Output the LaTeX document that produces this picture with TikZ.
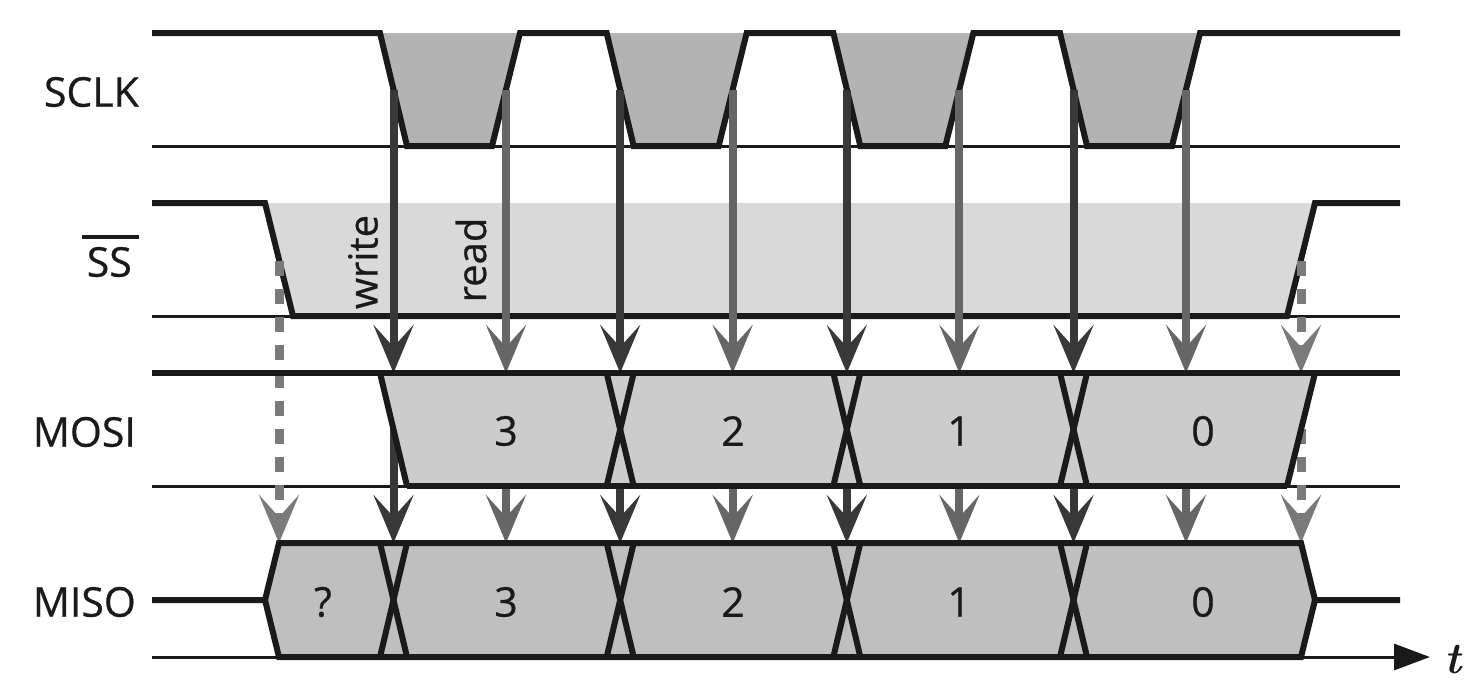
\documentclass[tikz,border=0pt]{standalone}
\usepackage{fontspec}
\setmainfont{Open Sans}[FakeBold=0.6]
\newfontfamily\tfont{Latin Modern Roman}
\usetikzlibrary{arrows.meta}
\definecolor{linecol}{HTML}{1A1A1A}
\definecolor{clkfill}{HTML}{B3B3B3}
\definecolor{ssfill}{HTML}{D9D9D9}
\definecolor{mosifill}{HTML}{CCCCCC}
\definecolor{misofill}{HTML}{BFBFBF}
\definecolor{writecol}{HTML}{383838}
\definecolor{readcol}{HTML}{666666}
\definecolor{sscol}{HTML}{7A7A7A}
\begin{document}
\begin{tikzpicture}[x=1pt,y=-1pt,
  sig/.style={draw=linecol, line width=6pt, line join=miter},
  base/.style={draw=linecol, line width=3pt},
  lab/.style={font=\fontsize{41}{46}\selectfont, text=linecol, inner sep=0pt},
  rlab/.style={font=\fontsize{40}{44}\selectfont, text=linecol, inner sep=0pt, rotate=90},
  tip/.style={-{Stealth[length=48pt,width=40pt,inset=22pt]}},
  warr/.style={draw=writecol, line width=8pt, tip},
  rarr/.style={draw=readcol, line width=8pt, tip},
  sarr/.style={draw=sscol, line width=9pt, dash pattern=on 15pt off 13pt, tip},
]
\useasboundingbox (0,0) rectangle (1474,686);

% ---------- fills ----------
\foreach \k in {0,1,2,3} {
  \pgfmathsetmacro\f{380+226.67*\k}
  \fill[clkfill] (\f,33) -- (\f+27,146) -- (\f+112,146) -- (\f+140,33) -- cycle;
}
\fill[ssfill] (265,203) -- (293,316) -- (1287,316) -- (1315,203) -- cycle;

% ---------- base lines ----------
\draw[base] (152,146) -- (1400,146);
\draw[base] (152,316) -- (1400,316);
\draw[base] (152,486) -- (1400,486);

% ---------- SCLK ----------
\draw[sig] (152,33)
  \foreach \k in {0,1,2,3} {
    -- ({380+226.67*\k},33) -- ({407+226.67*\k},146) -- ({492+226.67*\k},146) -- ({520+226.67*\k},33)
  } -- (1400,33);

% ---------- SS ----------
\draw[sig] (152,203) -- (265,203) -- (293,316) -- (1287,316) -- (1315,203) -- (1400,203);

% ---------- coordinates for arrows ----------
\foreach \k in {0,1,2,3} {
  \pgfmathsetmacro\xw{393.5+226.67*\k}
  \pgfmathsetmacro\xr{506+226.67*\k}
  \coordinate (w\k a) at (\xw,90);
  \coordinate (w\k b) at (\xw,373);
  \coordinate (w\k c) at (\xw,543);
  \coordinate (r\k a) at (\xr,90);
  \coordinate (r\k b) at (\xr,373);
  \coordinate (r\k c) at (\xr,543);
}
\coordinate (s0a) at (279,261);
\coordinate (s0c) at (279,543);
\coordinate (s1a) at (1301,261);
\coordinate (s1b) at (1301,373);
\coordinate (s1c) at (1301,543);

% ---------- arrows ----------
\foreach \k in {0,1,2,3} {
  \draw[warr] (w\k a) -- (w\k b);
  \draw[warr] (w\k b) -- (w\k c);
  \draw[rarr] (r\k a) -- (r\k b);
  \draw[rarr] (r\k b) -- (r\k c);
}
\draw[sarr] (s0a) -- (s0c);
\draw[sarr] (s1a) -- (s1b);
\draw[sarr] (s1b) -- (s1c);

% ---------- MOSI ----------
\fill[mosifill] (380,373) -- (1315,373) -- (1287,486) -- (407,486) -- cycle;
\draw[sig] (152,373) -- (1400,373);
\draw[sig] (407,486) -- (1287,486);
\draw[sig] (380,373) -- (407,486);
\draw[sig] (1315,373) -- (1287,486);
\foreach \k in {1,2,3} {
  \pgfmathsetmacro\f{380+226.67*\k}
  \draw[sig] (\f,373) -- (\f+27,486);
  \draw[sig] (\f+27,373) -- (\f,486);
}

% ---------- MISO ----------
\draw[base] (152,657) -- (279,657);
\fill[misofill] (265,600) -- (279,543) -- (1301,543) -- (1315,600) -- (1301,657) -- (279,657) -- cycle;
\draw[sig] (152,600) -- (265,600) -- (279,543) -- (1301,543) -- (1315,600) -- (1400,600);
\draw[sig] (265,600) -- (279,657) -- (1301,657) -- (1315,600);
\foreach \k in {0,1,2,3} {
  \pgfmathsetmacro\f{380+226.67*\k}
  \draw[sig] (\f,543) -- (\f+27,657);
  \draw[sig] (\f+27,543) -- (\f,657);
}

% ---------- time axis ----------
\coordinate (ax0) at (1301,657);
\coordinate (ax1) at (1430,657);
\draw[base, -{Triangle[length=36pt,width=26pt]}] (ax0) -- (ax1);
\node[font=\fontsize{44}{48}\selectfont\tfont\bfseries\itshape, text=linecol, inner sep=0pt] (t) at (1453,660) {t};

% ---------- labels ----------
\node[lab, anchor=east] (sclk) at (139,92) {SCLK};
\node[lab, anchor=east] (ss) at (132,262) {SS};
\draw[draw=linecol, line width=3.3pt] (82,237) -- (139,237);
\node[lab, anchor=east] (mosi) at (136,432) {MOSI};
\node[lab, anchor=east] (miso) at (136,602) {MISO};

\node[rlab] (write) at (363,262) {write};
\node[rlab] (read) at (471,260) {read};

\foreach \x/\d in {506/3, 733/2, 959/1, 1203/0} {
  \node[lab] at (\x,431) {\d};
}
\foreach \x/\d in {323/?, 506/3, 733/2, 959/1, 1203/0} {
  \node[lab] at (\x,602) {\d};
}
\end{tikzpicture}
\end{document}
